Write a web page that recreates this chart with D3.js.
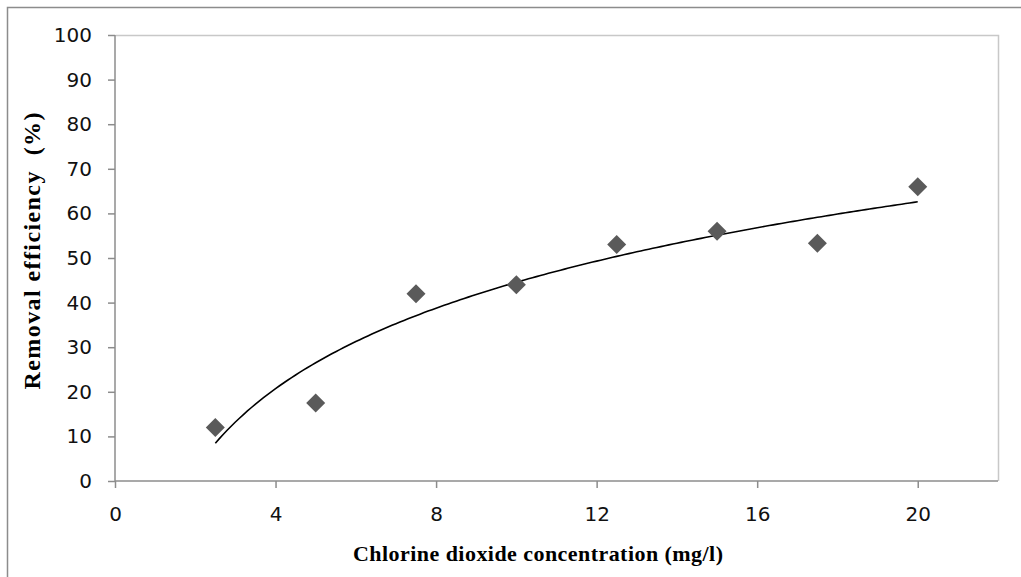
<!DOCTYPE html>
<html>
<head>
<meta charset="utf-8">
<script src="https://cdn.jsdelivr.net/npm/d3@7"></script>
<style>
  body { margin: 0; background: #fff; }
</style>
</head>
<body>
<svg id="chart" width="1021" height="577"></svg>
<script>
// data
const concentration = [2.5, 5, 7.5, 10, 12.5, 15, 17.5, 20];
const efficiency = [12, 17.5, 42, 44, 53, 56, 53.3, 66];
const xTicks = [0, 4, 8, 12, 16, 20];
const yTicks = [0, 10, 20, 30, 40, 50, 60, 70, 80, 90, 100];

const svg = d3.select('#chart');
const margin = { top: 35, right: 23, bottom: 96, left: 115 };
const width = 1021 - margin.left - margin.right;
const height = 577 - margin.top - margin.bottom;

// outer chart border
svg.append('rect')
    .attr('x', 7.5).attr('y', 7.5)
    .attr('width', 1030).attr('height', 600)
    .attr('fill', 'none').attr('stroke', '#8c8c8c').attr('stroke-width', 1.5);

const g = svg.append('g').attr('transform', `translate(${margin.left},${margin.top})`);

const x = d3.scaleLinear().domain([0, 22]).range([0, width]);
const y = d3.scaleLinear().domain([0, 100]).range([height, 0]);

// plot area border (top/right)
g.append('path')
    .attr('d', `M0.5,0.5H${width + 0.5}V${height}`)
    .attr('fill', 'none').attr('stroke', '#c8c8c8').attr('stroke-width', 1.5);

// axes
const xAxis = g.append('g').attr('transform', `translate(0,${height})`)
    .call(d3.axisBottom(x).tickValues(xTicks).tickSize(7).tickPadding(19).tickFormat(d3.format('d')));
const yAxis = g.append('g')
    .call(d3.axisLeft(y).tickValues(yTicks).tickSize(7).tickPadding(16).tickFormat(d3.format('d')));

[xAxis, yAxis].forEach(a => {
    a.select('.domain').attr('stroke', '#8c8c8c').attr('stroke-width', 1.5);
    a.selectAll('.tick line').attr('stroke', '#8c8c8c').attr('stroke-width', 1.5);
    a.selectAll('.tick text')
        .attr('fill', '#111')
        .style('font-family', '"DejaVu Sans", sans-serif')
        .style('font-size', '20px');
});
xAxis.select('.domain').attr('d', `M0,0H${width}`);
yAxis.select('.domain').attr('d', `M0,0V${height}`);

// logarithmic trendline fitted to the data (least squares on ln x)
const lx = concentration.map(Math.log);
const mx = d3.mean(lx), my = d3.mean(efficiency);
const slope = d3.sum(lx, (v, i) => (v - mx) * (efficiency[i] - my)) / d3.sum(lx, v => (v - mx) * (v - mx));
const intercept = my - slope * mx;
const trendX = d3.range(2.5, 20.001, 0.1);
g.append('path')
    .datum(trendX)
    .attr('fill', 'none')
    .attr('stroke', '#000')
    .attr('stroke-width', 1.6)
    .attr('d', d3.line().x(d => x(d)).y(d => y(slope * Math.log(d) + intercept)));

// diamond markers
g.selectAll('.pt')
    .data(concentration.map((c, i) => ({ c, v: efficiency[i] })))
    .join('path')
    .attr('class', 'pt')
    .attr('transform', d => `translate(${x(d.c)},${y(d.v)})`)
    .attr('d', 'M0,-9.5L9.5,0L0,9.5L-9.5,0Z')
    .attr('fill', '#5a5a5a');

// axis titles
svg.append('text')
    .attr('x', 538).attr('y', 561)
    .attr('text-anchor', 'middle')
    .attr('textLength', 370)
    .attr('lengthAdjust', 'spacing')
    .style('font-family', '"Liberation Serif", "Times New Roman", serif')
    .style('font-weight', 'bold')
    .style('font-size', '22px')
    .text('Chlorine dioxide concentration (mg/l)');

svg.append('text')
    .attr('transform', `translate(40,251) rotate(-90)`)
    .attr('text-anchor', 'middle')
    .attr('textLength', 277)
    .attr('lengthAdjust', 'spacing')
    .style('font-family', '"Liberation Serif", "Times New Roman", serif')
    .style('font-weight', 'bold')
    .style('font-size', '24px')
    .style('white-space', 'pre')
    .text('Removal efficiency  (%)');
</script>
</body>
</html>
